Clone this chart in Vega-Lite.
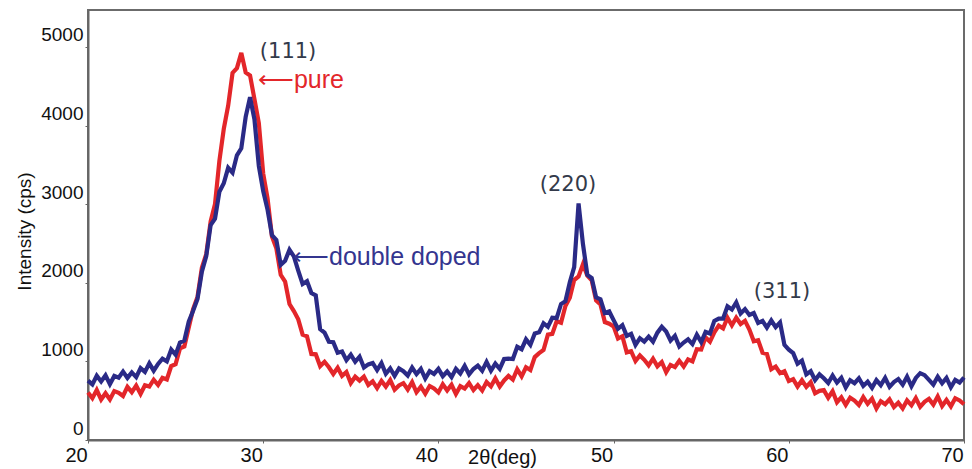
{
"$schema": "https://vega.github.io/schema/vega-lite/v6.json",
"width": 876,
"height": 430,
"autosize": "none",
"padding": {"left": 88, "top": 10, "right": 8, "bottom": 29},
"background": "white",
"config": {"view": {"stroke": "#6b6b6b", "strokeWidth": 2}, "font": "Liberation Sans"},
"datasets": {
"pure": [
{"x":20,"y":605},{"x":20.25,"y":532},{"x":20.5,"y":636},{"x":20.75,"y":515},{"x":21,"y":595},{"x":21.25,"y":515},{"x":21.5,"y":623},{"x":21.75,"y":601},{"x":22,"y":560},{"x":22.25,"y":675},{"x":22.5,"y":608},{"x":22.75,"y":692},{"x":23,"y":586},{"x":23.25,"y":697},{"x":23.5,"y":680},{"x":23.75,"y":767},{"x":24,"y":700},{"x":24.25,"y":790},{"x":24.5,"y":770},{"x":24.75,"y":940},{"x":25,"y":965},{"x":25.25,"y":1165},{"x":25.5,"y":1190},{"x":25.75,"y":1430},{"x":26,"y":1665},{"x":26.25,"y":1820},{"x":26.5,"y":2190},{"x":26.75,"y":2365},{"x":27,"y":2780},{"x":27.25,"y":3002},{"x":27.5,"y":3552},{"x":27.75,"y":3958},{"x":28,"y":4252},{"x":28.25,"y":4670},{"x":28.5,"y":4730},{"x":28.75,"y":4925},{"x":29,"y":4675},{"x":29.25,"y":4638},{"x":29.5,"y":4335},{"x":29.75,"y":4032},{"x":30,"y":3390},{"x":30.25,"y":3072},{"x":30.5,"y":2590},{"x":30.75,"y":2440},{"x":31,"y":2102},{"x":31.25,"y":2015},{"x":31.5,"y":1730},{"x":31.75,"y":1640},{"x":32,"y":1535},{"x":32.25,"y":1340},{"x":32.5,"y":1320},{"x":32.75,"y":1095},{"x":33,"y":1090},{"x":33.25,"y":940},{"x":33.5,"y":995},{"x":33.75,"y":925},{"x":34,"y":840},{"x":34.25,"y":920},{"x":34.5,"y":815},{"x":34.75,"y":865},{"x":35,"y":725},{"x":35.25,"y":805},{"x":35.5,"y":755},{"x":35.75,"y":807},{"x":36,"y":700},{"x":36.25,"y":745},{"x":36.5,"y":660},{"x":36.75,"y":752},{"x":37,"y":679},{"x":37.25,"y":762},{"x":37.5,"y":640},{"x":37.75,"y":694},{"x":38,"y":723},{"x":38.25,"y":642},{"x":38.5,"y":737},{"x":38.75,"y":607},{"x":39,"y":678},{"x":39.25,"y":590},{"x":39.5,"y":687},{"x":39.75,"y":655},{"x":40,"y":605},{"x":40.25,"y":710},{"x":40.5,"y":631},{"x":40.75,"y":703},{"x":41,"y":586},{"x":41.25,"y":685},{"x":41.5,"y":655},{"x":41.75,"y":725},{"x":42,"y":636},{"x":42.25,"y":698},{"x":42.5,"y":630},{"x":42.75,"y":738},{"x":43,"y":682},{"x":43.25,"y":783},{"x":43.5,"y":680},{"x":43.75,"y":758},{"x":44,"y":815},{"x":44.25,"y":768},{"x":44.5,"y":900},{"x":44.75,"y":810},{"x":45,"y":925},{"x":45.25,"y":890},{"x":45.5,"y":1055},{"x":45.75,"y":1105},{"x":46,"y":1145},{"x":46.25,"y":1340},{"x":46.5,"y":1350},{"x":46.75,"y":1510},{"x":47,"y":1490},{"x":47.25,"y":1705},{"x":47.5,"y":1810},{"x":47.75,"y":2035},{"x":48,"y":2080},{"x":48.25,"y":2235},{"x":48.5,"y":2090},{"x":48.75,"y":2030},{"x":49,"y":1775},{"x":49.25,"y":1725},{"x":49.5,"y":1500},{"x":49.75,"y":1480},{"x":50,"y":1445},{"x":50.25,"y":1290},{"x":50.5,"y":1320},{"x":50.75,"y":1115},{"x":51,"y":1130},{"x":51.25,"y":1005},{"x":51.5,"y":1075},{"x":51.75,"y":1020},{"x":52,"y":950},{"x":52.25,"y":1035},{"x":52.5,"y":938},{"x":52.75,"y":992},{"x":53,"y":862},{"x":53.25,"y":955},{"x":53.5,"y":928},{"x":53.75,"y":1007},{"x":54,"y":935},{"x":54.25,"y":1025},{"x":54.5,"y":1000},{"x":54.75,"y":1155},{"x":55,"y":1150},{"x":55.25,"y":1305},{"x":55.5,"y":1250},{"x":55.75,"y":1370},{"x":56,"y":1455},{"x":56.25,"y":1420},{"x":56.5,"y":1555},{"x":56.75,"y":1460},{"x":57,"y":1555},{"x":57.25,"y":1475},{"x":57.5,"y":1515},{"x":57.75,"y":1405},{"x":58,"y":1255},{"x":58.25,"y":1270},{"x":58.5,"y":1110},{"x":58.75,"y":1095},{"x":59,"y":900},{"x":59.25,"y":935},{"x":59.5,"y":850},{"x":59.75,"y":875},{"x":60,"y":750},{"x":60.25,"y":775},{"x":60.5,"y":680},{"x":60.75,"y":760},{"x":61,"y":675},{"x":61.25,"y":735},{"x":61.5,"y":595},{"x":61.75,"y":625},{"x":62,"y":635},{"x":62.25,"y":538},{"x":62.5,"y":620},{"x":62.75,"y":480},{"x":63,"y":542},{"x":63.25,"y":447},{"x":63.5,"y":538},{"x":63.75,"y":501},{"x":64,"y":445},{"x":64.25,"y":545},{"x":64.5,"y":460},{"x":64.75,"y":525},{"x":65,"y":401},{"x":65.25,"y":493},{"x":65.5,"y":455},{"x":65.75,"y":517},{"x":66,"y":420},{"x":66.25,"y":475},{"x":66.5,"y":401},{"x":66.75,"y":503},{"x":67,"y":441},{"x":67.25,"y":534},{"x":67.5,"y":422},{"x":67.75,"y":485},{"x":68,"y":523},{"x":68.25,"y":451},{"x":68.5,"y":554},{"x":68.75,"y":432},{"x":69,"y":510},{"x":69.25,"y":428},{"x":69.5,"y":531},{"x":69.75,"y":503},{"x":70,"y":455}
],
"doped": [
{"x":20,"y":755},{"x":20.25,"y":707},{"x":20.5,"y":818},{"x":20.75,"y":745},{"x":21,"y":822},{"x":21.25,"y":710},{"x":21.5,"y":815},{"x":21.75,"y":792},{"x":22,"y":870},{"x":22.25,"y":790},{"x":22.5,"y":860},{"x":22.75,"y":800},{"x":23,"y":915},{"x":23.25,"y":867},{"x":23.5,"y":975},{"x":23.75,"y":882},{"x":24,"y":968},{"x":24.25,"y":1035},{"x":24.5,"y":1000},{"x":24.75,"y":1150},{"x":25,"y":1085},{"x":25.25,"y":1240},{"x":25.5,"y":1265},{"x":25.75,"y":1505},{"x":26,"y":1645},{"x":26.25,"y":1795},{"x":26.5,"y":2140},{"x":26.75,"y":2340},{"x":27,"y":2735},{"x":27.25,"y":2815},{"x":27.5,"y":3158},{"x":27.75,"y":3265},{"x":28,"y":3462},{"x":28.25,"y":3400},{"x":28.5,"y":3622},{"x":28.75,"y":3710},{"x":29,"y":4110},{"x":29.25,"y":4360},{"x":29.5,"y":4078},{"x":29.75,"y":3485},{"x":30,"y":3165},{"x":30.25,"y":2928},{"x":30.5,"y":2605},{"x":30.75,"y":2545},{"x":31,"y":2228},{"x":31.25,"y":2280},{"x":31.5,"y":2420},{"x":31.75,"y":2335},{"x":32,"y":2155},{"x":32.25,"y":1985},{"x":32.5,"y":2020},{"x":32.75,"y":1870},{"x":33,"y":1840},{"x":33.25,"y":1410},{"x":33.5,"y":1365},{"x":33.75,"y":1250},{"x":34,"y":1245},{"x":34.25,"y":1110},{"x":34.5,"y":1125},{"x":34.75,"y":1015},{"x":35,"y":1085},{"x":35.25,"y":995},{"x":35.5,"y":1060},{"x":35.75,"y":922},{"x":36,"y":962},{"x":36.25,"y":980},{"x":36.5,"y":890},{"x":36.75,"y":978},{"x":37,"y":843},{"x":37.25,"y":910},{"x":37.5,"y":817},{"x":37.75,"y":911},{"x":38,"y":875},{"x":38.25,"y":820},{"x":38.5,"y":921},{"x":38.75,"y":838},{"x":39,"y":905},{"x":39.25,"y":782},{"x":39.5,"y":875},{"x":39.75,"y":840},{"x":40,"y":905},{"x":40.25,"y":812},{"x":40.5,"y":871},{"x":40.75,"y":800},{"x":41,"y":906},{"x":41.25,"y":847},{"x":41.5,"y":943},{"x":41.75,"y":835},{"x":42,"y":903},{"x":42.25,"y":947},{"x":42.5,"y":882},{"x":42.75,"y":994},{"x":43,"y":882},{"x":43.25,"y":972},{"x":43.5,"y":905},{"x":43.75,"y":1030},{"x":44,"y":1035},{"x":44.25,"y":1030},{"x":44.5,"y":1185},{"x":44.75,"y":1155},{"x":45,"y":1280},{"x":45.25,"y":1210},{"x":45.5,"y":1355},{"x":45.75,"y":1370},{"x":46,"y":1485},{"x":46.25,"y":1440},{"x":46.5,"y":1555},{"x":46.75,"y":1550},{"x":47,"y":1730},{"x":47.25,"y":1765},{"x":47.5,"y":2005},{"x":47.75,"y":2200},{"x":48,"y":3010},{"x":48.25,"y":2495},{"x":48.5,"y":2100},{"x":48.75,"y":2060},{"x":49,"y":1815},{"x":49.25,"y":1790},{"x":49.5,"y":1615},{"x":49.75,"y":1635},{"x":50,"y":1525},{"x":50.25,"y":1415},{"x":50.5,"y":1460},{"x":50.75,"y":1325},{"x":51,"y":1350},{"x":51.25,"y":1210},{"x":51.5,"y":1295},{"x":51.75,"y":1252},{"x":52,"y":1315},{"x":52.25,"y":1250},{"x":52.5,"y":1365},{"x":52.75,"y":1440},{"x":53,"y":1380},{"x":53.25,"y":1265},{"x":53.5,"y":1325},{"x":53.75,"y":1190},{"x":54,"y":1240},{"x":54.25,"y":1280},{"x":54.5,"y":1220},{"x":54.75,"y":1340},{"x":55,"y":1245},{"x":55.25,"y":1375},{"x":55.5,"y":1355},{"x":55.75,"y":1515},{"x":56,"y":1545},{"x":56.25,"y":1545},{"x":56.5,"y":1700},{"x":56.75,"y":1660},{"x":57,"y":1750},{"x":57.25,"y":1610},{"x":57.5,"y":1665},{"x":57.75,"y":1590},{"x":58,"y":1615},{"x":58.25,"y":1490},{"x":58.5,"y":1515},{"x":58.75,"y":1430},{"x":59,"y":1520},{"x":59.25,"y":1435},{"x":59.5,"y":1495},{"x":59.75,"y":1210},{"x":60,"y":1150},{"x":60.25,"y":1105},{"x":60.5,"y":970},{"x":60.75,"y":1010},{"x":61,"y":835},{"x":61.25,"y":875},{"x":61.5,"y":763},{"x":61.75,"y":835},{"x":62,"y":785},{"x":62.25,"y":725},{"x":62.5,"y":820},{"x":62.75,"y":730},{"x":63,"y":792},{"x":63.25,"y":668},{"x":63.5,"y":760},{"x":63.75,"y":722},{"x":64,"y":785},{"x":64.25,"y":688},{"x":64.5,"y":741},{"x":64.75,"y":664},{"x":65,"y":762},{"x":65.25,"y":697},{"x":65.5,"y":789},{"x":65.75,"y":676},{"x":66,"y":738},{"x":66.25,"y":775},{"x":66.5,"y":703},{"x":66.75,"y":806},{"x":67,"y":685},{"x":67.25,"y":790},{"x":67.5,"y":850},{"x":67.75,"y":825},{"x":68,"y":765},{"x":68.25,"y":705},{"x":68.5,"y":805},{"x":68.75,"y":722},{"x":69,"y":790},{"x":69.25,"y":670},{"x":69.5,"y":765},{"x":69.75,"y":730},{"x":70,"y":795}
],
"hkl": [
{"t":"(111)","x":31.42,"y":4936},
{"t":"(220)","x":47.4,"y":3244},
{"t":"(311)","x":59.61,"y":1883}
],
"notes": [
{"t":"⟵pure","x":29.7,"y":4580,"c":"#e3262a"},
{"t":"⟵double doped","x":31.7,"y":2328,"c":"#34358f"}
]
},
"layer": [
{
"data": {"name": "pure"},
"mark": {"type": "line", "color": "#e3262a", "strokeWidth": 4.2},
"encoding": {
"x": {"field": "x", "type": "quantitative",
"scale": {"domain": [20, 70], "nice": false, "zero": false},
"axis": {"title": "2θ(deg)", "values": [20, 30, 40, 50, 60, 70], "grid": false,
"labelFont": "Liberation Sans", "labelFontSize": 20, "labelColor": "#111", "labelOffset": -12, "labelPadding": 2, "labelFlush": false,
"tickSize": 3, "tickColor": "#666", "domainColor": "#666", "domainWidth": 2,
"titleFont": "Liberation Sans", "titleFontSize": 20, "titleFontWeight": "normal", "titleColor": "#111",
"titleX": 414, "titleY": 17, "titleAlign": "center", "titleBaseline": "middle"}},
"y": {"field": "y", "type": "quantitative",
"scale": {"domain": [0, 5470], "nice": false, "zero": false},
"axis": {"title": "Intensity (cps)", "values": [0, 1000, 2000, 3000, 4000, 5000], "format": "d", "grid": false,
"labelFont": "Liberation Sans", "labelFontSize": 19, "labelColor": "#111", "labelOffset": -12, "labelPadding": 2, "labelFlush": false,
"tickSize": 3, "tickColor": "#666", "domainColor": "#666", "domainWidth": 2,
"titleFont": "Liberation Sans", "titleFontSize": 19, "titleFontWeight": "normal", "titleColor": "#111",
"titleX": -64, "titleY": 221, "titleAlign": "center", "titleBaseline": "middle"}}
}
},
{
"data": {"name": "doped"},
"mark": {"type": "line", "color": "#2a2a86", "strokeWidth": 4.2},
"encoding": {
"x": {"field": "x", "type": "quantitative"},
"y": {"field": "y", "type": "quantitative"}
}
},
{
"data": {"name": "hkl"},
"mark": {"type": "text", "font": "DejaVu Sans", "fontSize": 21, "color": "#333a4a", "align": "center", "baseline": "middle"},
"encoding": {
"x": {"field": "x", "type": "quantitative"},
"y": {"field": "y", "type": "quantitative"},
"text": {"field": "t"}
}
},
{
"data": {"name": "notes"},
"mark": {"type": "text", "font": "Liberation Sans", "fontSize": 25, "align": "left", "baseline": "middle"},
"encoding": {
"x": {"field": "x", "type": "quantitative"},
"y": {"field": "y", "type": "quantitative"},
"text": {"field": "t"},
"color": {"field": "c", "type": "nominal", "scale": null}
}
}
]
}
